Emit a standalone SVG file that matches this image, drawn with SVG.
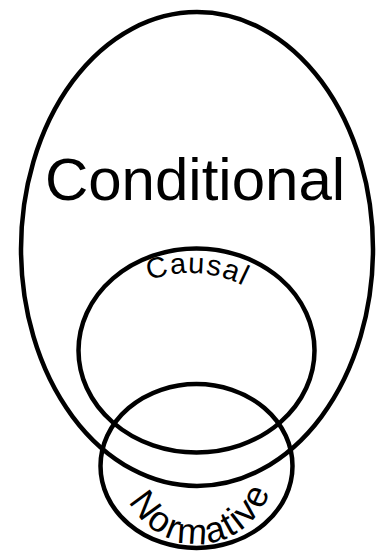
<svg xmlns="http://www.w3.org/2000/svg" width="376" height="551" viewBox="0 0 376 551">
<style>
.set{fill:none;stroke:#000;stroke-width:4.5}
.lbl{font-family:"Liberation Sans",Arial,sans-serif;fill:#000}
</style>
<defs>
<path id="causalPath" d="M 74.4,389 A 116,116 0 0 1 306.4,389"/>
<path id="normPath" d="M 121.5,468 A 76,76 0 0 0 273.5,468"/>
</defs>
<rect width="376" height="551" fill="#fff"/>
<g id="conditional">
<ellipse class="set" cx="197" cy="249" rx="176" ry="237"/>
<text class="lbl" x="195" y="200" font-size="60" text-anchor="middle">Conditional</text>
</g>
<g id="causal">
<ellipse class="set" cx="196.5" cy="350.5" rx="118" ry="102"/>
<text class="lbl" font-size="29" letter-spacing="1.2"><textPath href="#causalPath" startOffset="140">Causal</textPath></text>
</g>
<g id="normative">
<ellipse class="set" cx="196.5" cy="466" rx="96" ry="82"/>
<text class="lbl" font-size="36" letter-spacing="2" text-anchor="middle"><textPath href="#normPath" startOffset="52.5%">Normative</textPath></text>
</g>
<g id="connectors"/>
</svg>
